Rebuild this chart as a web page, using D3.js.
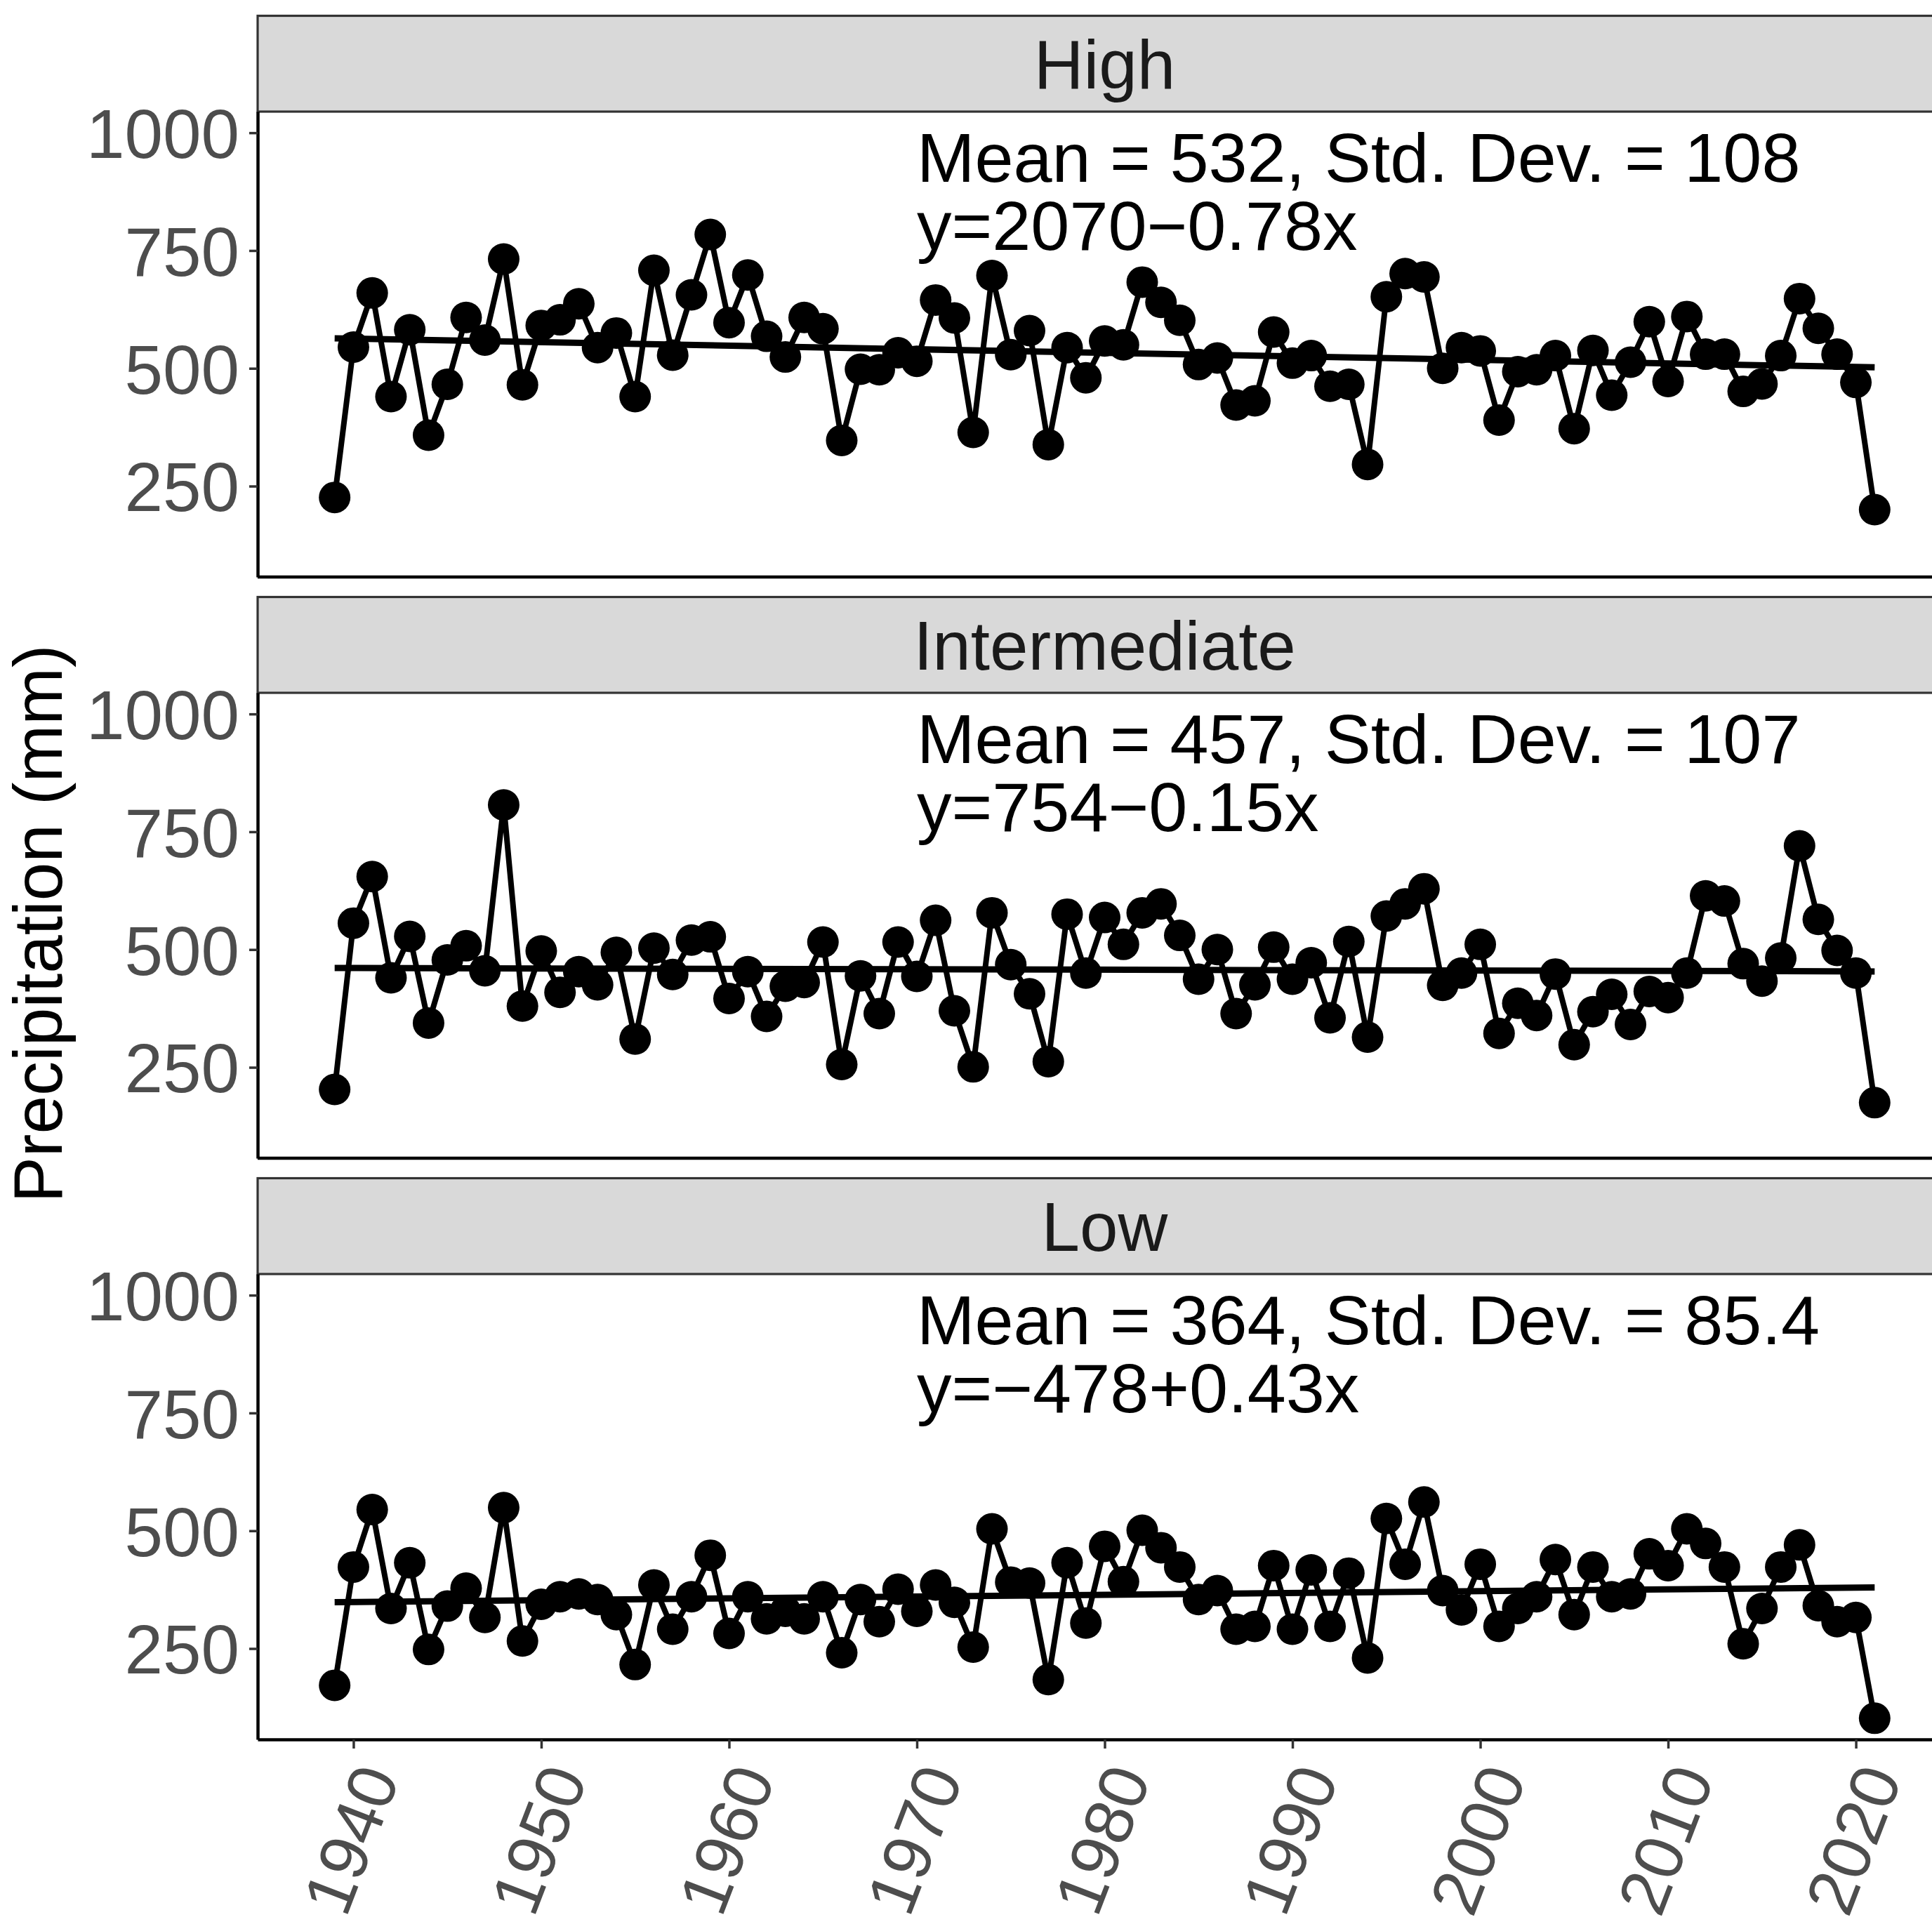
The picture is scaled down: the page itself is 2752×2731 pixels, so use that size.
<!DOCTYPE html>
<html><head><meta charset="utf-8">
<script src="https://cdn.jsdelivr.net/npm/d3@7/dist/d3.min.js"></script>
<style>
html,body{margin:0;padding:0;background:#fff;}
svg{display:block;}
text{font-family:"Liberation Sans", Arial, Helvetica, sans-serif;}
</style></head><body>
<svg id="chart" width="2752" height="2731"></svg>
<script>
// ---------------- data ----------------
const years = d3.range(1939, 2022);
const panelNames = ["High", "Intermediate", "Low"];
const highValues = [
  226, 545, 660, 440, 582, 358, 466, 608, 560, 732,
  465, 591, 603, 637, 544, 575, 440, 708, 528, 656,
  784, 597, 698, 568, 524, 608, 584, 347, 498, 497,
  533, 515, 645, 607, 364, 697, 529, 580, 338, 544,
  480, 558, 550, 683, 640, 602, 508, 522, 422, 431,
  577, 511, 527, 462, 466, 296, 652, 701, 694, 500,
  544, 537, 390, 493, 497, 527, 372, 538, 443, 513,
  599, 472, 610, 530, 530, 451, 467, 527, 648, 585,
  530, 470, 200];
const intermediateValues = [
  203, 556, 655, 440, 528, 344, 478, 508, 455, 807,
  380, 497, 409, 453, 425, 494, 310, 503, 447, 520,
  527, 396, 453, 358, 422, 430, 516, 256, 444, 364,
  516, 443, 562, 370, 251, 578, 468, 406, 262, 575,
  450, 568, 511, 578, 597, 530, 437, 500, 364, 425,
  505, 437, 472, 355, 517, 314, 571, 597, 629, 424,
  450, 511, 322, 386, 360, 448, 298, 368, 405, 341,
  411, 398, 450, 614, 603, 470, 433, 482, 720, 564,
  498, 450, 175];
const lowValues = [
  172, 423, 545, 335, 432, 248, 340, 378, 316, 549,
  266, 344, 360, 366, 354, 322, 216, 385, 291, 360,
  448, 282, 360, 313, 329, 313, 360, 241, 354, 307,
  376, 329, 385, 348, 253, 504, 391, 389, 184, 432,
  304, 467, 392, 501, 464, 423, 354, 373, 291, 297,
  426, 291, 417, 297, 410, 230, 526, 429, 561, 373,
  332, 429, 297, 335, 360, 439, 322, 423, 360, 366,
  451, 426, 504, 473, 423, 260, 335, 423, 470, 341,
  307, 316, 102];
const meanLabels = ["Mean = 532, Std. Dev. = 108", "Mean = 457, Std. Dev. = 107", "Mean = 364, Std. Dev. = 85.4"];
const equationLabels = ["y=2070\u22120.78x", "y=754\u22120.15x", "y=\u2212478+0.43x"];
const yTicks = [250, 500, 750, 1000];
const xTicks = [1940, 1950, 1960, 1970, 1980, 1990, 2000, 2010, 2020];
const labelYear = 1970, labelValue = 1000;
const yAxisTitle = "Precipitation (mm)";

const seriesValues = [highValues, intermediateValues, lowValues];

// ---------------- layout ----------------
const W = 2752, H = 2731;
const left = 367, right = 2780;
const top0 = 22.5, stripH = 136.5, plotH = 663, gap = 28.5;
const fs = 98;
const fontFam = '"Liberation Sans", Arial, Helvetica, sans-serif';

const svg = d3.select("#chart");

const span = years[years.length - 1] - years[0];
const x = d3.scaleLinear()
  .domain([years[0] - 0.05 * span, years[years.length - 1] + 0.05 * span])
  .range([left, right]);

const allVals = seriesValues.flat();
const lo = d3.min(allVals), hi = labelValue;
const rng = hi - lo;
const yDomain = [lo - 0.05 * rng, hi + 0.05 * rng];

// least-squares trend line (like geom_smooth(method = "lm"))
function fit(vals) {
  const mx = d3.mean(years), my = d3.mean(vals);
  let sxy = 0, sxx = 0;
  years.forEach((yr, i) => { sxy += (yr - mx) * (vals[i] - my); sxx += (yr - mx) * (yr - mx); });
  const b = sxy / sxx;
  return { a: my - b * mx, b };
}

panelNames.forEach((name, i) => {
  const stripTop = top0 + i * (stripH + plotH + gap);
  const plotTop = stripTop + stripH;
  const plotBottom = plotTop + plotH;
  const y = d3.scaleLinear().domain(yDomain).range([plotBottom, plotTop]);
  const vals = seriesValues[i];
  const data = years.map((yr, k) => ({ year: yr, value: vals[k] }));
  const g = svg.append("g");

  // strip
  g.append("rect").attr("x", left).attr("y", stripTop).attr("width", right - left).attr("height", stripH)
    .attr("fill", "#D9D9D9").attr("stroke", "#333333").attr("stroke-width", 3.2);
  g.append("text").attr("x", (left + right) / 2).attr("y", stripTop + stripH / 2).attr("dy", "0.36em")
    .attr("text-anchor", "middle").attr("font-size", fs).attr("fill", "#1A1A1A").text(name);

  // data line
  const line = d3.line().x(d => x(d.year)).y(d => y(d.value));
  g.append("path").datum(data).attr("d", line).attr("fill", "none").attr("stroke", "#000")
    .attr("stroke-width", 8).attr("stroke-linejoin", "round");
  // points
  g.selectAll("circle.pt").data(data).enter().append("circle").attr("class", "pt")
    .attr("cx", d => x(d.year)).attr("cy", d => y(d.value)).attr("r", 22.5).attr("fill", "#000");
  // trend
  const f = fit(vals);
  const ends = [years[0], years[years.length - 1]].map(yr => ({ year: yr, value: f.a + f.b * yr }));
  g.append("path").datum(ends).attr("d", line).attr("fill", "none").attr("stroke", "#000").attr("stroke-width", 9);

  // annotation
  const t = g.append("text").attr("x", x(labelYear)).attr("y", y(labelValue)).attr("font-size", 99).attr("fill", "#000");
  t.append("tspan").attr("x", x(labelYear)).attr("dy", 70).text(meanLabels[i]);
  t.append("tspan").attr("x", x(labelYear)).attr("dy", 97).text(equationLabels[i]);

  // y axis
  const ya = g.append("g").attr("transform", `translate(${left},0)`)
    .call(d3.axisLeft(y).tickValues(yTicks).tickSize(12).tickSizeOuter(0).tickPadding(14).tickFormat(d3.format("d")));
  ya.select(".domain").attr("stroke", "#000").attr("stroke-width", 4.5);
  ya.selectAll(".tick line").attr("stroke", "#333333").attr("stroke-width", 3.5);
  ya.selectAll(".tick text").attr("font-size", fs).attr("fill", "#4D4D4D").attr("dy", "0.36em")
    .attr("font-family", fontFam);

  // bottom axis
  if (i === panelNames.length - 1) {
    const xa = g.append("g").attr("transform", `translate(0,${plotBottom})`)
      .call(d3.axisBottom(x).tickValues(xTicks).tickSize(13).tickSizeOuter(0).tickFormat(d3.format("d")));
    xa.select(".domain").attr("stroke", "#000").attr("stroke-width", 4.5);
    xa.selectAll(".tick line").attr("stroke", "#333333").attr("stroke-width", 3.5);
    xa.selectAll(".tick text").attr("y", null).attr("dy", "0.73em")
      .attr("transform", "translate(0,29) rotate(-69)").attr("text-anchor", "end")
      .attr("font-size", 97).attr("fill", "#4D4D4D").attr("font-family", fontFam);
  } else {
    g.append("line").attr("x1", left).attr("x2", right).attr("y1", plotBottom).attr("y2", plotBottom)
      .attr("stroke", "#000").attr("stroke-width", 4.5);
  }
});

// y axis title
svg.append("text").attr("transform", `translate(88,1316) rotate(-90)`).attr("text-anchor", "middle")
  .attr("font-size", fs).attr("fill", "#000").text(yAxisTitle);
</script>
</body></html>
